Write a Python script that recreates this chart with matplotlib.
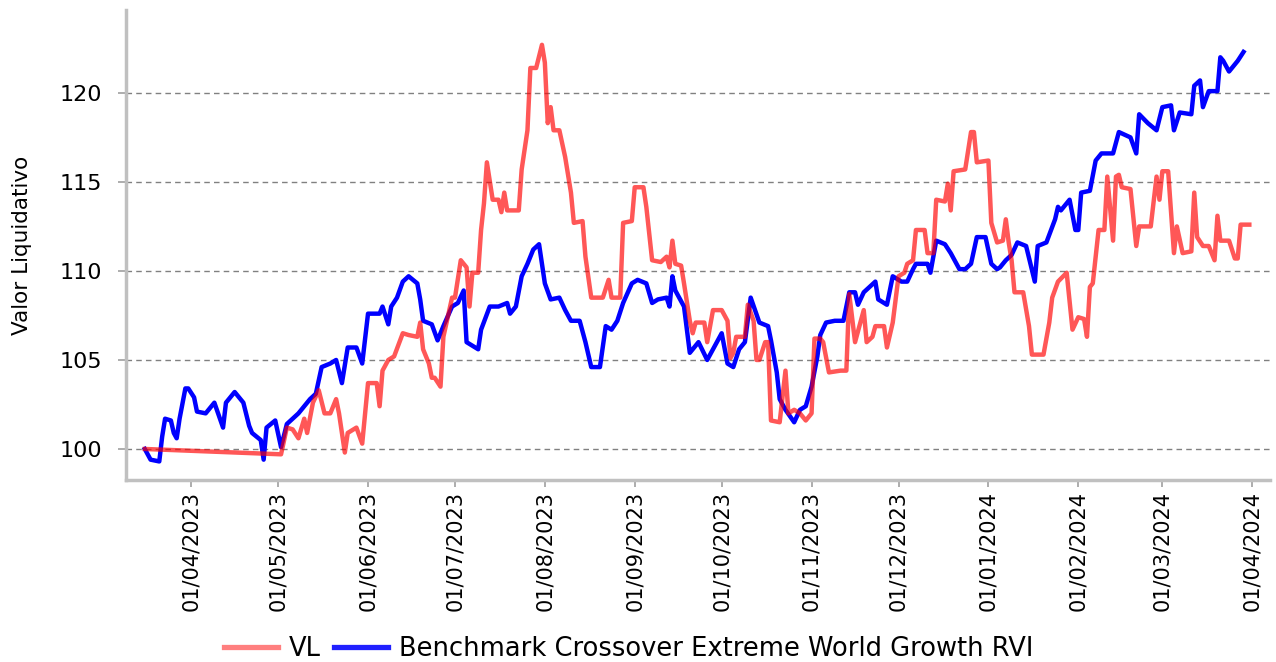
import matplotlib
matplotlib.use('Agg')
import matplotlib.pyplot as plt
import matplotlib.dates as mdates
import pandas as pd

# VL series
vl_dates = [
    '2023-03-16', '2023-05-02', '2023-05-04', '2023-05-06', '2023-05-08', '2023-05-10', '2023-05-11',
    '2023-05-13', '2023-05-15', '2023-05-17', '2023-05-19', '2023-05-21', '2023-05-22', '2023-05-24',
    '2023-05-25', '2023-05-28', '2023-05-30', '2023-06-01', '2023-06-04', '2023-06-05', '2023-06-06',
    '2023-06-08', '2023-06-10', '2023-06-13', '2023-06-15', '2023-06-18', '2023-06-19', '2023-06-20',
    '2023-06-22', '2023-06-23', '2023-06-24', '2023-06-26', '2023-06-27', '2023-06-30', '2023-07-01',
    '2023-07-03', '2023-07-05', '2023-07-06', '2023-07-07', '2023-07-09', '2023-07-10', '2023-07-11',
    '2023-07-12', '2023-07-14', '2023-07-16', '2023-07-17', '2023-07-18', '2023-07-19', '2023-07-23',
    '2023-07-24', '2023-07-26', '2023-07-27', '2023-07-29', '2023-07-31', '2023-08-01', '2023-08-02',
    '2023-08-03', '2023-08-04', '2023-08-06', '2023-08-08', '2023-08-10', '2023-08-11', '2023-08-14',
    '2023-08-15', '2023-08-17', '2023-08-21', '2023-08-23', '2023-08-24', '2023-08-27', '2023-08-28',
    '2023-08-31', '2023-09-01', '2023-09-04', '2023-09-05', '2023-09-07', '2023-09-10', '2023-09-12',
    '2023-09-13', '2023-09-14', '2023-09-15', '2023-09-17', '2023-09-18', '2023-09-20', '2023-09-21',
    '2023-09-22', '2023-09-25', '2023-09-26', '2023-09-28', '2023-10-01', '2023-10-03', '2023-10-04',
    '2023-10-05', '2023-10-06', '2023-10-09', '2023-10-10', '2023-10-12', '2023-10-13', '2023-10-14',
    '2023-10-16', '2023-10-17', '2023-10-18', '2023-10-21', '2023-10-23', '2023-10-24', '2023-10-26',
    '2023-10-28', '2023-10-30', '2023-11-01', '2023-11-02', '2023-11-04', '2023-11-05', '2023-11-07',
    '2023-11-11', '2023-11-13', '2023-11-14', '2023-11-16', '2023-11-17', '2023-11-19', '2023-11-20',
    '2023-11-22', '2023-11-23', '2023-11-26', '2023-11-27', '2023-11-29', '2023-12-01', '2023-12-03',
    '2023-12-04', '2023-12-06', '2023-12-07', '2023-12-10', '2023-12-11', '2023-12-13', '2023-12-14',
    '2023-12-17', '2023-12-18', '2023-12-19', '2023-12-20', '2023-12-24', '2023-12-26', '2023-12-27',
    '2023-12-28', '2024-01-01', '2024-01-02', '2024-01-04', '2024-01-06', '2024-01-07', '2024-01-08',
    '2024-01-09', '2024-01-10', '2024-01-13', '2024-01-15', '2024-01-16', '2024-01-20', '2024-01-22',
    '2024-01-23', '2024-01-25', '2024-01-28', '2024-01-30', '2024-02-01', '2024-02-03', '2024-02-04',
    '2024-02-05', '2024-02-06', '2024-02-08', '2024-02-10', '2024-02-11', '2024-02-13', '2024-02-14',
    '2024-02-15', '2024-02-16', '2024-02-19', '2024-02-21', '2024-02-22', '2024-02-26', '2024-02-28',
    '2024-02-29', '2024-03-01', '2024-03-03', '2024-03-05', '2024-03-06', '2024-03-08', '2024-03-11',
    '2024-03-12', '2024-03-13', '2024-03-15', '2024-03-17', '2024-03-19', '2024-03-20', '2024-03-21',
    '2024-03-24', '2024-03-26', '2024-03-27', '2024-03-28', '2024-03-31',
]
vl_values = [
    100.0, 99.7, 101.2, 101.1, 100.6, 101.7, 100.9,
    102.6, 103.3, 102.0, 102.0, 102.8, 102.0, 99.8,
    100.9, 101.2, 100.3, 103.7, 103.7, 102.4, 104.4,
    105.0, 105.2, 106.5, 106.4, 106.3, 107.1, 105.6,
    104.8, 104.0, 104.0, 103.5, 106.3, 108.5, 108.5,
    110.6, 110.2, 108.0, 109.9, 109.9, 112.3, 113.8,
    116.1, 114.0, 114.0, 113.3, 114.4, 113.4, 113.4,
    115.7, 117.9, 121.4, 121.4, 122.7, 121.7, 118.3,
    119.2, 117.9, 117.9, 116.4, 114.4, 112.7, 112.8,
    110.8, 108.5, 108.5, 109.5, 108.5, 108.5, 112.7,
    112.8, 114.7, 114.7, 113.6, 110.6, 110.5, 110.8,
    110.2, 111.7, 110.4, 110.3, 109.3, 107.2, 106.5,
    107.1, 107.1, 106.0, 107.8, 107.8, 107.2, 105.1,
    105.4, 106.3, 106.3, 108.1, 107.2, 105.0, 105.0,
    106.0, 106.0, 101.6, 101.5, 104.4, 102.0, 102.2,
    102.0, 101.6, 102.0, 106.2, 106.2, 106.0, 104.3,
    104.4, 104.4, 108.7, 106.0, 106.6, 107.8, 106.0,
    106.3, 106.9, 106.9, 105.7, 107.1, 109.7, 109.9,
    110.4, 110.6, 112.3, 112.3, 111.0, 111.0, 114.0,
    113.9, 114.9, 113.4, 115.6, 115.7, 117.8, 117.8,
    116.1, 116.2, 112.7, 111.6, 111.7, 112.9, 111.6,
    110.6, 108.8, 108.8, 106.9, 105.3, 105.3, 107.1,
    108.5, 109.4, 109.9, 106.7, 107.4, 107.3, 106.3,
    109.1, 109.3, 112.3, 112.3, 115.3, 111.7, 115.3,
    115.4, 114.7, 114.6, 111.4, 112.5, 112.5, 115.3,
    114.0, 115.6, 115.6, 111.0, 112.5, 111.0, 111.1,
    114.4, 111.9, 111.4, 111.4, 110.6, 113.1, 111.7,
    111.7, 110.7, 110.7, 112.6, 112.6,
]

# Benchmark series
bench_dates = [
    '2023-03-16', '2023-03-18', '2023-03-21', '2023-03-22', '2023-03-23', '2023-03-25', '2023-03-26',
    '2023-03-27', '2023-03-28', '2023-03-30', '2023-03-31', '2023-04-02', '2023-04-03', '2023-04-06',
    '2023-04-09', '2023-04-12', '2023-04-13', '2023-04-16', '2023-04-19', '2023-04-21', '2023-04-22',
    '2023-04-25', '2023-04-26', '2023-04-27', '2023-04-30', '2023-05-02', '2023-05-04', '2023-05-06',
    '2023-05-08', '2023-05-10', '2023-05-12', '2023-05-14', '2023-05-16', '2023-05-19', '2023-05-21',
    '2023-05-23', '2023-05-25', '2023-05-28', '2023-05-30', '2023-06-01', '2023-06-05', '2023-06-06',
    '2023-06-08', '2023-06-09', '2023-06-11', '2023-06-13', '2023-06-15', '2023-06-18', '2023-06-19',
    '2023-06-20', '2023-06-23', '2023-06-25', '2023-06-27', '2023-06-30', '2023-07-02', '2023-07-04',
    '2023-07-05', '2023-07-08', '2023-07-09', '2023-07-10', '2023-07-13', '2023-07-16', '2023-07-19',
    '2023-07-20', '2023-07-22', '2023-07-24', '2023-07-26', '2023-07-28', '2023-07-30', '2023-08-01',
    '2023-08-03', '2023-08-06', '2023-08-08', '2023-08-10', '2023-08-13', '2023-08-15', '2023-08-17',
    '2023-08-20', '2023-08-22', '2023-08-24', '2023-08-26', '2023-08-28', '2023-08-31', '2023-09-02',
    '2023-09-05', '2023-09-07', '2023-09-09', '2023-09-12', '2023-09-13', '2023-09-14', '2023-09-15',
    '2023-09-18', '2023-09-20', '2023-09-21', '2023-09-23', '2023-09-26', '2023-09-28', '2023-10-01',
    '2023-10-03', '2023-10-05', '2023-10-07', '2023-10-09', '2023-10-11', '2023-10-14', '2023-10-17',
    '2023-10-18', '2023-10-20', '2023-10-21', '2023-10-23', '2023-10-26', '2023-10-28', '2023-10-30',
    '2023-11-01', '2023-11-03', '2023-11-04', '2023-11-06', '2023-11-09', '2023-11-12', '2023-11-14',
    '2023-11-16', '2023-11-17', '2023-11-19', '2023-11-21', '2023-11-23', '2023-11-24', '2023-11-27',
    '2023-11-29', '2023-12-02', '2023-12-04', '2023-12-06', '2023-12-07', '2023-12-11', '2023-12-12',
    '2023-12-14', '2023-12-17', '2023-12-19', '2023-12-22', '2023-12-24', '2023-12-26', '2023-12-28',
    '2023-12-31', '2024-01-02', '2024-01-04', '2024-01-05', '2024-01-07', '2024-01-09', '2024-01-11',
    '2024-01-14', '2024-01-17', '2024-01-18', '2024-01-21', '2024-01-24', '2024-01-25', '2024-01-26',
    '2024-01-29', '2024-01-31', '2024-02-01', '2024-02-02', '2024-02-05', '2024-02-07', '2024-02-09',
    '2024-02-13', '2024-02-15', '2024-02-19', '2024-02-21', '2024-02-22', '2024-02-25', '2024-02-28',
    '2024-03-01', '2024-03-04', '2024-03-05', '2024-03-07', '2024-03-11', '2024-03-12', '2024-03-14',
    '2024-03-15', '2024-03-17', '2024-03-20', '2024-03-21', '2024-03-22', '2024-03-24', '2024-03-27',
    '2024-03-29',
]
bench_values = [
    100.0, 99.4, 99.3, 100.7, 101.7, 101.6, 100.9,
    100.6, 101.7, 103.4, 103.4, 102.9, 102.1, 102.0,
    102.6, 101.2, 102.6, 103.2, 102.6, 101.3, 100.9,
    100.5, 99.4, 101.2, 101.6, 100.1, 101.4, 101.7,
    102.0, 102.4, 102.8, 103.1, 104.6, 104.8, 105.0,
    103.7, 105.7, 105.7, 104.8, 107.6, 107.6, 108.0,
    107.0, 108.0, 108.5, 109.4, 109.7, 109.3, 108.4,
    107.2, 107.0, 106.1, 106.9, 108.0, 108.2, 108.9,
    106.0, 105.7, 105.6, 106.7, 108.0, 108.0, 108.2,
    107.6, 108.0, 109.7, 110.4, 111.2, 111.5, 109.3,
    108.4, 108.5, 107.8, 107.2, 107.2, 106.0, 104.6,
    104.6, 106.9, 106.7, 107.2, 108.2, 109.3, 109.5,
    109.3, 108.2, 108.4, 108.5, 108.0, 109.7, 108.9,
    108.0, 105.4, 105.6, 106.0, 105.0, 105.6, 106.5,
    104.8, 104.6, 105.6, 106.0, 108.5, 107.1, 106.9,
    106.1, 104.3, 102.8, 102.2, 101.5, 102.2, 102.4,
    103.5, 105.2, 106.4, 107.1, 107.2, 107.2, 108.8,
    108.8, 108.1, 108.8, 109.1, 109.4, 108.4, 108.1,
    109.7, 109.4, 109.4, 110.1, 110.4, 110.4, 109.9,
    111.7, 111.5, 111.0, 110.1, 110.1, 110.4, 111.9,
    111.9, 110.4, 110.1, 110.2, 110.6, 110.9, 111.6,
    111.4, 109.4, 111.4, 111.6, 112.9, 113.6, 113.4,
    114.0, 112.3, 112.3, 114.4, 114.5, 116.2, 116.6,
    116.6, 117.8, 117.5, 116.6, 118.8, 118.3, 117.9,
    119.2, 119.3, 117.9, 118.9, 118.8, 120.4, 120.7,
    119.2, 120.1, 120.1, 122.0, 121.8, 121.2, 121.8,
    122.3,
]

y_ticks = [100, 105, 110, 115, 120]
labels = ['VL', 'Benchmark Crossover Extreme World Growth RVI']


def plot():
    fig = plt.figure(figsize=(12.76, 6.62), dpi=100)
    ax = fig.add_axes([0.0987, 0.275, 0.8963, 0.71])

    bench_x = pd.to_datetime(bench_dates)
    vl_x = pd.to_datetime(vl_dates)

    ax.plot(bench_x, bench_values, color='#0000ff', lw=3.2, label=labels[1], zorder=3)
    ax.plot(vl_x, vl_values, color='#ff0000', alpha=0.66, lw=3.2, label=labels[0], zorder=4)

    ax.set_xlim(pd.Timestamp('2023-03-09 12:00'), pd.Timestamp('2024-04-07'))
    ax.set_ylim(98.26, 124.66)
    ax.set_yticks(y_ticks)

    ax.xaxis.set_major_locator(mdates.MonthLocator(bymonthday=1))
    ax.xaxis.set_major_formatter(mdates.DateFormatter('%d/%m/%Y'))
    plt.setp(ax.get_xticklabels(), rotation=90)

    # grid and spines
    ax.grid(axis='y', ls=(0, (4, 3)), color='#808080', lw=1)
    ax.grid(axis='x', visible=False)
    for side in ['top', 'right']:
        ax.spines[side].set_visible(False)
    for side in ['left', 'bottom']:
        ax.spines[side].set_color('#c0c0c0')
        ax.spines[side].set_linewidth(2.5)
    ax.tick_params(axis='both', colors='#a0a0a0', labelcolor='black', width=1.2)
    ax.tick_params(axis='x', labelsize=15, pad=3, length=5)
    ax.tick_params(axis='y', labelsize=16, pad=11, length=6)

    ax.set_ylabel('Valor Liquidativo', fontsize=15.5)
    ax.yaxis.set_label_coords(-0.0825, 0.5)

    handles, lbls = ax.get_legend_handles_labels()
    leg = fig.legend(handles[::-1], lbls[::-1], loc='center', bbox_to_anchor=(0.4926, 0.0196),
                     ncol=2, frameon=False, fontsize=18.5, handlelength=2.1, columnspacing=0.5,
                     handletextpad=0.43, borderpad=0, borderaxespad=0)
    leg_lines = leg.get_lines()
    leg_lines[0].set_linewidth(3.8)
    leg_lines[0].set_alpha(0.5)
    leg_lines[1].set_linewidth(3.8)
    leg_lines[1].set_color('#2020ff')

    fig.savefig('out.png', dpi=100)


if __name__ == "__main__":
    plot()
